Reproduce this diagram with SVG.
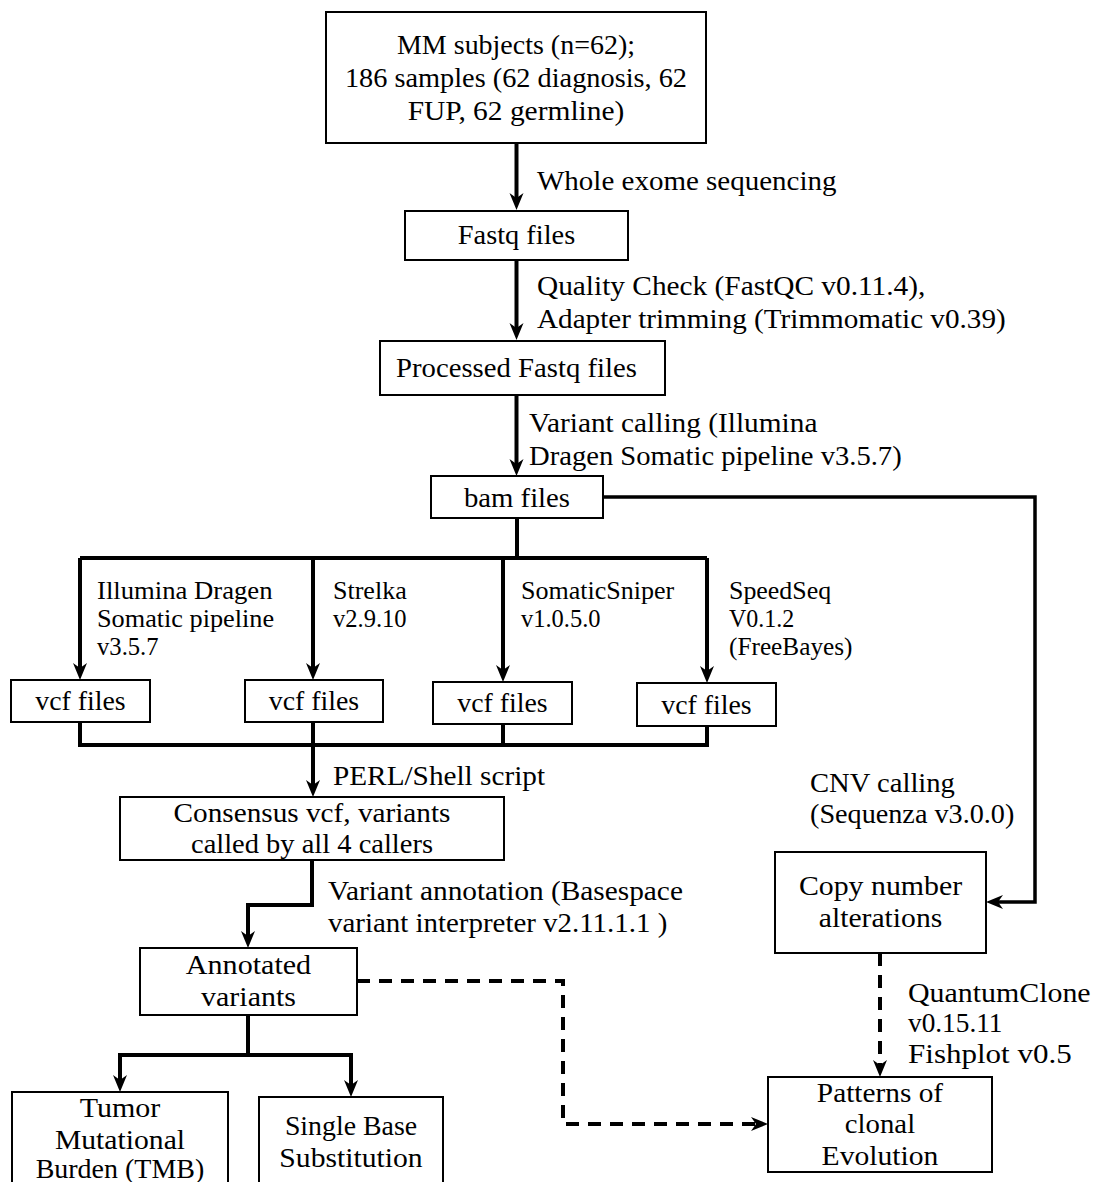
<svg xmlns="http://www.w3.org/2000/svg" width="1097" height="1182" viewBox="0 0 1097 1182">
<style>
.bg{fill:#fff}
.box{fill:#fff;stroke:#000;stroke-width:2}
.t{font-family:"Liberation Serif","Times New Roman",serif;font-size:27.5px;fill:#000}
.c{text-anchor:middle}
.s{font-size:25px}
.ln{fill:none;stroke:#000;stroke-width:4;stroke-linejoin:miter}
.thin{stroke-width:3.5}
.dash{stroke-dasharray:13 9}
</style>
<defs>
<marker id="ah" viewBox="-20 -10 22 20" markerWidth="22" markerHeight="20" refX="-6" refY="0" orient="auto" markerUnits="userSpaceOnUse">
<path d="M0,0 L-17,-7 L-12,0 L-17,7 Z" fill="#000"/>
</marker>
</defs>
<rect class="bg" x="0" y="0" width="1097" height="1182"/>

<g id="connectors">
<path class="ln" d="M516.5,143 V204" marker-end="url(#ah)"/>
<path class="ln" d="M516.5,260 V334" marker-end="url(#ah)"/>
<path class="ln" d="M516.5,395 V470" marker-end="url(#ah)"/>
<path class="ln" d="M517,518 V558"/>
<path class="ln" d="M80,558 H707"/>
<path class="ln" d="M80,558 V674" marker-end="url(#ah)"/>
<path class="ln" d="M313,558 V674" marker-end="url(#ah)"/>
<path class="ln" d="M503,558 V676" marker-end="url(#ah)"/>
<path class="ln" d="M707,558 V677" marker-end="url(#ah)"/>
<path class="ln" d="M80,722 V745 H707 V726"/>
<path class="ln" d="M313,722 V745"/>
<path class="ln" d="M503,724 V745"/>
<path class="ln" d="M313,745 V791" marker-end="url(#ah)"/>
<path class="ln" d="M312,860 V905 H248 V942" marker-end="url(#ah)"/>
<path class="ln" d="M248,1015 V1055 H120 V1086" marker-end="url(#ah)"/>
<path class="ln" d="M248,1055 H351 V1091" marker-end="url(#ah)"/>
<path class="ln thin" d="M603,497 H1035 V902 H992" marker-end="url(#ah)"/>
<path class="ln dash" d="M357,981 H563 V1124 H762" marker-end="url(#ah)"/>
<path class="ln dash" d="M880,953 V1071" marker-end="url(#ah)"/>
</g>

<g id="edge-labels">
<text class="t" x="537" y="190" textLength="299.5" lengthAdjust="spacingAndGlyphs">Whole exome sequencing</text>
<text class="t" x="537" y="295" textLength="388.4" lengthAdjust="spacingAndGlyphs">Quality Check (FastQC v0.11.4),</text>
<text class="t" x="537" y="328" textLength="468.7" lengthAdjust="spacingAndGlyphs">Adapter trimming (Trimmomatic v0.39)</text>
<text class="t" x="529" y="432" textLength="288.4" lengthAdjust="spacingAndGlyphs">Variant calling (Illumina</text>
<text class="t" x="529" y="465" textLength="372.7" lengthAdjust="spacingAndGlyphs">Dragen Somatic pipeline v3.5.7)</text>
<text class="t s" x="97" y="599" textLength="175.5" lengthAdjust="spacingAndGlyphs">Illumina Dragen</text>
<text class="t s" x="97" y="627" textLength="177.1" lengthAdjust="spacingAndGlyphs">Somatic pipeline</text>
<text class="t s" x="97" y="655" textLength="61.6" lengthAdjust="spacingAndGlyphs">v3.5.7</text>
<text class="t s" x="333" y="599" textLength="73.7" lengthAdjust="spacingAndGlyphs">Strelka</text>
<text class="t s" x="333" y="627" textLength="73.6" lengthAdjust="spacingAndGlyphs">v2.9.10</text>
<text class="t s" x="521" y="599" textLength="153.3" lengthAdjust="spacingAndGlyphs">SomaticSniper</text>
<text class="t s" x="521" y="627" textLength="79.6" lengthAdjust="spacingAndGlyphs">v1.0.5.0</text>
<text class="t s" x="729" y="599" textLength="102.2" lengthAdjust="spacingAndGlyphs">SpeedSeq</text>
<text class="t s" x="729" y="627" textLength="65.3" lengthAdjust="spacingAndGlyphs">V0.1.2</text>
<text class="t s" x="729" y="655" textLength="123.5" lengthAdjust="spacingAndGlyphs">(FreeBayes)</text>
<text class="t" x="333" y="785" textLength="212" lengthAdjust="spacingAndGlyphs">PERL/Shell script</text>
<text class="t" x="328" y="900" textLength="354.9" lengthAdjust="spacingAndGlyphs">Variant annotation (Basespace</text>
<text class="t" x="328" y="932" textLength="339.3" lengthAdjust="spacingAndGlyphs">variant interpreter v2.11.1.1 )</text>
<text class="t" x="810" y="792" textLength="144.9" lengthAdjust="spacingAndGlyphs">CNV calling</text>
<text class="t" x="810" y="823" textLength="204.3" lengthAdjust="spacingAndGlyphs">(Sequenza v3.0.0)</text>
<text class="t" x="908" y="1002" textLength="182.6" lengthAdjust="spacingAndGlyphs">QuantumClone</text>
<text class="t" x="908" y="1032" textLength="94.5" lengthAdjust="spacingAndGlyphs">v0.15.11</text>
<text class="t" x="908" y="1063" textLength="163.8" lengthAdjust="spacingAndGlyphs">Fishplot v0.5</text>
</g>

<g id="node-subjects">
<rect class="box" x="326" y="12" width="380" height="131"/>
<text class="t c" x="516" y="54" textLength="238" lengthAdjust="spacingAndGlyphs">MM subjects (n=62);</text>
<text class="t c" x="516" y="87" textLength="342.1" lengthAdjust="spacingAndGlyphs">186 samples (62 diagnosis, 62</text>
<text class="t c" x="516" y="120" textLength="216.7" lengthAdjust="spacingAndGlyphs">FUP, 62 germline)</text>
</g>
<g id="node-fastq">
<rect class="box" x="405" y="211" width="223" height="49"/>
<text class="t c" x="516.5" y="244" textLength="117.5" lengthAdjust="spacingAndGlyphs">Fastq files</text>
</g>
<g id="node-processed">
<rect class="box" x="380" y="341" width="285" height="54"/>
<text class="t c" x="516.5" y="377" textLength="240.9" lengthAdjust="spacingAndGlyphs">Processed Fastq files</text>
</g>
<g id="node-bam">
<rect class="box" x="431" y="476" width="172" height="42"/>
<text class="t c" x="517" y="507" textLength="106.1" lengthAdjust="spacingAndGlyphs">bam files</text>
</g>
<g id="node-vcf1">
<rect class="box" x="11" y="680" width="139" height="42"/>
<text class="t c" x="80.5" y="710" textLength="90.4" lengthAdjust="spacingAndGlyphs">vcf files</text>
</g>
<g id="node-vcf2">
<rect class="box" x="245" y="680" width="138" height="42"/>
<text class="t c" x="314" y="710" textLength="90.4" lengthAdjust="spacingAndGlyphs">vcf files</text>
</g>
<g id="node-vcf3">
<rect class="box" x="433" y="682" width="139" height="42"/>
<text class="t c" x="502.5" y="712" textLength="90.4" lengthAdjust="spacingAndGlyphs">vcf files</text>
</g>
<g id="node-vcf4">
<rect class="box" x="637" y="683" width="139" height="43"/>
<text class="t c" x="706.5" y="714" textLength="90.4" lengthAdjust="spacingAndGlyphs">vcf files</text>
</g>
<g id="node-consensus">
<rect class="box" x="120" y="797" width="384" height="63"/>
<text class="t c" x="312" y="822" textLength="276.9" lengthAdjust="spacingAndGlyphs">Consensus vcf, variants</text>
<text class="t c" x="312" y="853" textLength="242" lengthAdjust="spacingAndGlyphs">called by all 4 callers</text>
</g>
<g id="node-annotated">
<rect class="box" x="140" y="948" width="217" height="67"/>
<text class="t c" x="248.5" y="974" textLength="125.3" lengthAdjust="spacingAndGlyphs">Annotated</text>
<text class="t c" x="248.5" y="1006" textLength="94.9" lengthAdjust="spacingAndGlyphs">variants</text>
</g>
<g id="node-tmb">
<rect class="box" x="12" y="1092" width="216" height="100"/>
<text class="t c" x="120" y="1117" textLength="80.6" lengthAdjust="spacingAndGlyphs">Tumor</text>
<text class="t c" x="120" y="1149" textLength="130.1" lengthAdjust="spacingAndGlyphs">Mutational</text>
<text class="t c" x="120" y="1178" textLength="168.7" lengthAdjust="spacingAndGlyphs">Burden (TMB)</text>
</g>
<g id="node-sbs">
<rect class="box" x="259" y="1097" width="184" height="95"/>
<text class="t c" x="351" y="1135" textLength="132.2" lengthAdjust="spacingAndGlyphs">Single Base</text>
<text class="t c" x="351" y="1167" textLength="143.3" lengthAdjust="spacingAndGlyphs">Substitution</text>
</g>
<g id="node-cna">
<rect class="box" x="775" y="852" width="211" height="101"/>
<text class="t c" x="880.5" y="895" textLength="163.2" lengthAdjust="spacingAndGlyphs">Copy number</text>
<text class="t c" x="880.5" y="927" textLength="123.5" lengthAdjust="spacingAndGlyphs">alterations</text>
</g>
<g id="node-patterns">
<rect class="box" x="768" y="1077" width="224" height="95"/>
<text class="t c" x="880" y="1102" textLength="126.3" lengthAdjust="spacingAndGlyphs">Patterns of</text>
<text class="t c" x="880" y="1133" textLength="70.3" lengthAdjust="spacingAndGlyphs">clonal</text>
<text class="t c" x="880" y="1165" textLength="116.9" lengthAdjust="spacingAndGlyphs">Evolution</text>
</g>
</svg>
